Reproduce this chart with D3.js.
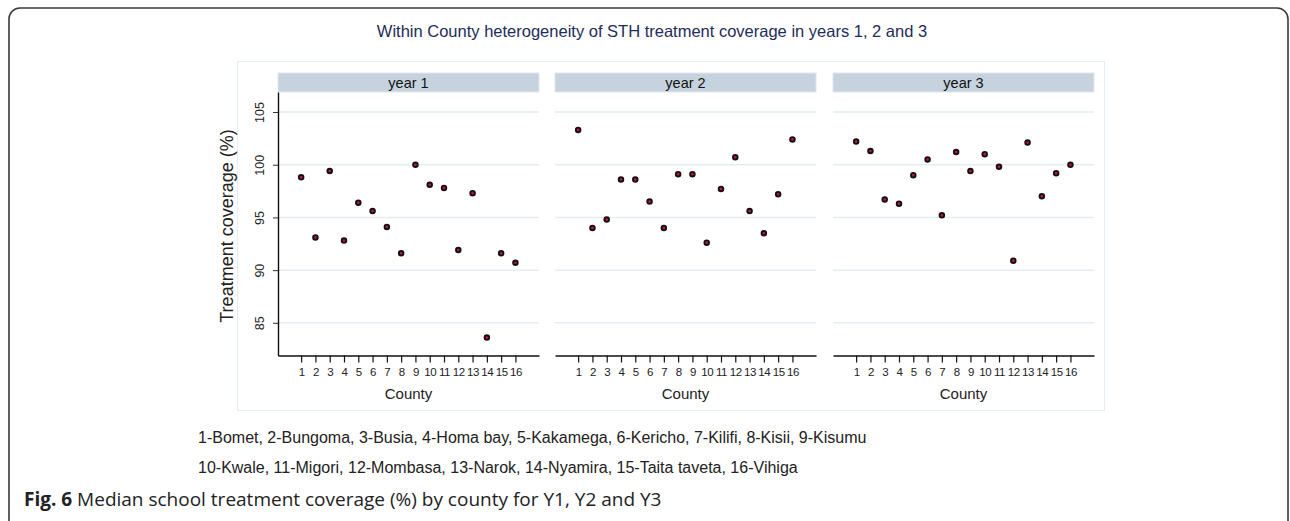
<!DOCTYPE html>
<html>
<head>
<meta charset="utf-8">
<script src="https://cdn.jsdelivr.net/npm/d3@7"></script>
<style>
  body { margin: 0; background: #fff; }
  svg { display: block; }
</style>
</head>
<body>
<div id="CHARTviz"></div>
<script>
// data
var counties = [1, 2, 3, 4, 5, 6, 7, 8, 9, 10, 11, 12, 13, 14, 15, 16];
var years = ["year 1", "year 2", "year 3"];
var year1 = [98.8, 93.1, 99.4, 92.8, 96.4, 95.6, 94.1, 91.6, 100.0, 98.1, 97.8, 91.9, 97.3, 83.6, 91.6, 90.7];
var year2 = [103.3, 94.0, 94.8, 98.6, 98.6, 96.5, 94.0, 99.1, 99.1, 92.6, 97.7, 100.7, 95.6, 93.5, 97.2, 102.4];
var year3 = [102.2, 101.3, 96.7, 96.3, 99.0, 100.5, 95.2, 101.2, 99.4, 101.0, 99.8, 90.9, 102.1, 97.0, 99.2, 100.0];
var yTicks = [85, 90, 95, 100, 105];
var legendLines = [
  "1-Bomet, 2-Bungoma, 3-Busia, 4-Homa bay, 5-Kakamega, 6-Kericho, 7-Kilifi, 8-Kisii, 9-Kisumu",
  "10-Kwale, 11-Migori, 12-Mombasa, 13-Narok, 14-Nyamira, 15-Taita taveta, 16-Vihiga"
];
var series = [year1, year2, year3];

var W = 1290, H = 521;
var panelLeft = [278, 555, 833];
var panelW = 261;
var plotTop = 92, plotBottom = 355.5;
var FONT = "'Liberation Sans', Arial, sans-serif";

var svg = d3.select("#CHARTviz")
  .append("svg")
  .attr("width", W)
  .attr("height", H)

// outer frame of the figure
svg.append("rect")
  .attr("x", 9).attr("y", 8)
  .attr("width", 1279).attr("height", 530)
  .attr("rx", 11)
  .attr("fill", "none")
  .attr("stroke", "#3a3a3a")
  .attr("stroke-width", 1.6)

// light border of graph region
svg.append("rect")
  .attr("x", 237.5).attr("y", 61.5)
  .attr("width", 867).attr("height", 349)
  .attr("fill", "none")
  .attr("stroke", "#e6edf2")
  .attr("stroke-width", 1)

svg.append("text")
  .attr("x", 652).attr("y", 37)
  .attr("text-anchor", "middle")
  .style("font-family", FONT)
  .style("font-size", "16.5px")
  .attr("fill", "#1e2c5a")
  .text("Within County heterogeneity of STH treatment coverage in years 1, 2 and 3")

var y = d3.scaleLinear()
  .domain([81.9, 106.9])
  .range([plotBottom, plotTop])

series.forEach(function(vals, i) {
  var g = svg.append("g")

  var x = d3.scaleLinear()
    .domain([-0.62, 17.65])
    .range([panelLeft[i], panelLeft[i] + panelW])

  // strip header
  g.append("rect")
    .attr("x", panelLeft[i]).attr("y", 73)
    .attr("width", panelW).attr("height", 19)
    .attr("fill", "#c6d3df")
    .attr("stroke", "#dfe7ee")
  g.append("text")
    .attr("x", panelLeft[i] + panelW / 2).attr("y", 88)
    .attr("text-anchor", "middle")
    .style("font-family", FONT)
    .style("font-size", "14.5px")
    .attr("fill", "#111")
    .text(years[i])

  // grid lines
  g.selectAll("grid")
    .data(yTicks)
    .enter()
    .append("line")
    .attr("x1", panelLeft[i]).attr("x2", panelLeft[i] + panelW)
    .attr("y1", function(d) { return y(d); })
    .attr("y2", function(d) { return y(d); })
    .attr("stroke", "#e2edf4")
    .attr("stroke-width", 1.5)

  // x axis
  var xAxis = d3.axisBottom(x)
    .tickValues(counties)
    .tickSize(7)
    .tickSizeOuter(0)
    .tickPadding(5)
  var XAXIS = g.append("g")
    .attr("transform", "translate(0," + plotBottom + ")")
    .call(xAxis)
  XAXIS.select(".domain").attr("stroke", "#111").attr("stroke-width", 1.4)
  XAXIS.selectAll(".tick line").attr("stroke", "#111").attr("stroke-width", 1.2)
  XAXIS.selectAll(".tick text")
    .style("font-family", FONT)
    .style("font-size", "11.5px")
    .attr("fill", "#222")
    .attr("letter-spacing", "-0.4px")

  g.append("text")
    .attr("x", panelLeft[i] + panelW / 2).attr("y", 399)
    .attr("text-anchor", "middle")
    .style("font-family", FONT)
    .style("font-size", "15px")
    .attr("fill", "#222")
    .text("County")

  // y axis only on the first panel
  if (i === 0) {
    var yAxis = d3.axisLeft(y).tickValues(yTicks).tickSize(5).tickSizeOuter(0).tickPadding(10)
    var YAXIS = g.append("g")
      .attr("transform", "translate(" + panelLeft[i] + ",0)")
      .call(yAxis)
    YAXIS.select(".domain").attr("stroke", "#111").attr("stroke-width", 1.4)
    YAXIS.selectAll(".tick line").attr("stroke", "#333").attr("stroke-width", 1)
    YAXIS.selectAll(".tick text")
      .attr("transform", "rotate(-90)")
      .attr("x", 0).attr("dy", 0)
      .attr("y", -14.5)
      .attr("text-anchor", "middle")
      .style("font-family", FONT)
      .style("font-size", "12.5px")
      .attr("fill", "#222")
  }

  // points
  g.selectAll("pts")
    .data(vals)
    .enter()
    .append("circle")
    .attr("cx", function(d, j) { return x(counties[j]); })
    .attr("cy", function(d) { return y(d); })
    .attr("r", 2.3)
    .attr("fill", "#d0103a")
    .attr("stroke", "#111")
    .attr("stroke-width", 1.9)
})

svg.append("text")
  .attr("transform", "translate(233,226) rotate(-90)")
  .attr("text-anchor", "middle")
  .style("font-family", FONT)
  .style("font-size", "18px")
  .attr("fill", "#222")
  .text("Treatment coverage (%)")

svg.selectAll("legend")
  .data(legendLines)
  .enter()
  .append("text")
  .attr("x", 198)
  .attr("y", function(d, k) { return 443 + k * 30; })
  .style("font-family", FONT)
  .style("font-size", "16px")
  .attr("fill", "#222")
  .text(function(d) { return d; })

var cap = svg.append("text")
  .attr("x", 24).attr("y", 506)
  .style("font-family", "'Open Sans', sans-serif")
  .style("font-size", "19px")
  .attr("fill", "#222")
cap.append("tspan").style("font-weight", "bold").text("Fig. 6")
cap.append("tspan").text(" Median school treatment coverage (%) by county for Y1, Y2 and Y3")
</script>
</body>
</html>
